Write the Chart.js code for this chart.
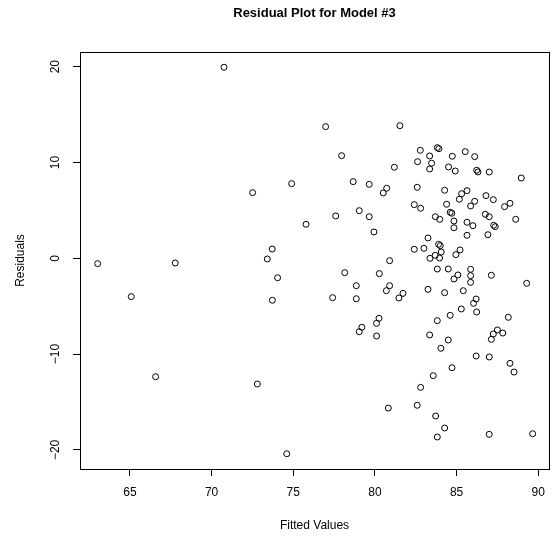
<!DOCTYPE html>
<html>
<head>
<meta charset="utf-8">
<title>Residual Plot for Model #3</title>
<script src="https://cdn.jsdelivr.net/npm/chart.js@4.4.0/dist/chart.umd.min.js"></script>
<style>
  body { margin: 0; background: #fff; }
  #chartResiduals { display: block; }
</style>
</head>
<body>
<canvas id="chartResiduals" width="555" height="540"></canvas>
<script>
// fitted values (x) and residuals (y)
const fittedValues = [
  63.02, 65.08, 66.57, 67.77, 70.76, 72.51, 72.8, 73.41, 73.71, 73.72,
  74.04, 74.6, 74.9, 75.78, 76.98, 77.41, 77.6, 77.96, 78.15, 78.67,
  78.86, 78.86, 79.04, 79.04, 79.2, 79.65, 79.65, 79.94, 80.1, 80.1,
  80.25, 80.27, 80.51, 80.72, 80.7, 80.82, 80.9, 80.9, 81.19, 81.47,
  81.53, 81.72, 82.41, 82.41, 82.59, 82.59, 82.61, 82.78, 82.8, 82.8,
  83.0, 83.25, 83.25, 83.35, 83.35, 83.35, 83.37, 83.47, 83.57, 83.69,
  83.7, 83.72, 83.82, 83.92, 83.82, 83.82, 83.82, 83.9, 83.96, 83.97,
  84.0, 84.04, 84.06, 84.27, 84.27, 84.27, 84.39, 84.49, 84.49, 84.51,
  84.61, 84.71, 84.61, 84.72, 84.74, 84.84, 84.84, 84.84, 84.92, 84.96,
  85.08, 85.17, 85.21, 85.29, 85.31, 85.41, 85.53, 85.64, 85.64, 85.64,
  85.86, 85.86, 85.86, 85.86, 86.0, 86.04, 86.11, 86.11, 86.2, 86.23,
  86.31, 86.23, 86.2, 86.76, 86.8, 86.92, 87.0, 87.0, 87.0, 87.0,
  87.13, 87.13, 87.25, 87.25, 87.27, 87.37, 87.5, 87.83, 87.94, 88.17,
  88.27, 88.27, 88.52, 88.62, 88.96, 89.29, 89.66
];
const residuals = [
  -0.56, -4.0, -12.36, -0.49, 19.94, 6.85, -13.12, -0.07, 0.97, -4.38,
  -2.03, -20.4, 7.79, 3.55, 13.74, -4.11, 4.42, 10.71, -1.5, 8.0,
  -2.86, -4.22, 4.97, -7.66, -7.2, 7.72, 4.34, 2.75, -6.79, -8.11,
  -6.26, -1.6, 6.82, 7.31, -3.38, -15.63, -0.25, -2.86, 9.5, -4.14,
  13.84, -3.66, 5.6, 0.94, 7.41, -15.34, 10.08, 11.27, 5.22, -13.47,
  1.04, 2.12, -3.24, 10.68, 9.32, -8.0, 0.0, 9.92, -12.25, 0.31,
  4.34, -16.46, 11.55, 11.44, -1.12, -6.51, -18.65, 1.46, 0.03, 4.07,
  1.32, -9.39, 0.66, 7.1, -3.59, -17.71, 5.64, -1.12, -8.53, 9.53,
  4.8, 4.7, -5.95, -11.42, 10.65, 3.89, 3.19, -2.16, 9.11, 0.38,
  -1.74, 6.16, 0.87, -5.29, 6.74, -3.38, 11.13, 7.06, 3.76, 2.4,
  5.46, -1.15, -1.81, -2.51, 3.4, -4.7, 10.61, 5.95, -4.25, 9.19,
  9.01, -5.6, -10.2, 4.59, 6.54, 2.46, 9.0, 4.34, -10.3, -18.37,
  -1.77, -8.46, 6.12, -7.9, 3.44, 3.3, -7.48, -7.8, 5.39, -6.16,
  5.74, -10.96, -11.87, 4.07, 8.38, -2.61, -18.31
];
const xTicks = [65, 70, 75, 80, 85, 90];
const yTicks = [-20, -10, 0, 10, 20];

const fontFamily = "'Liberation Sans', Arial, Helvetica, sans-serif";

function minusSign(value) {
  return value < 0 ? "\u2212" + Math.abs(value) : String(value);
}

// R style box around the plot region, on the same pixels as the axis borders
const boxPlugin = {
  id: "box",
  afterDraw(chart) {
    const a = chart.chartArea;
    const ctx = chart.ctx;
    ctx.save();
    ctx.strokeStyle = "#000";
    ctx.lineWidth = 1;
    ctx.strokeRect(Math.round(a.left) + 0.5, Math.round(a.top) + 0.5,
      Math.round(a.right - a.left), Math.round(a.bottom - a.top));
    ctx.restore();
  }
};

const points = fittedValues.map((x, i) => ({ x: x, y: residuals[i] }));

const ctx = document.getElementById("chartResiduals").getContext("2d");
new Chart(ctx, {
  type: "scatter",
  data: {
    datasets: [
      {
        data: points,
        pointStyle: "circle",
        pointRadius: 3,
        pointHoverRadius: 3,
        backgroundColor: "rgba(0,0,0,0)",
        borderColor: "#000",
        borderWidth: 1,
      },
    ],
  },
  options: {
    responsive: false,
    animation: false,
    devicePixelRatio: 1,
    layout: { padding: { left: 0, right: 6, top: 0, bottom: 0 } },
    plugins: {
      legend: { display: false },
      tooltip: { enabled: false },
      title: {
        display: true,
        fullSize: false,
        text: "Residual Plot for Model #3",
        color: "#000",
        font: { family: fontFamily, size: 13, weight: "bold" },
        padding: { top: 6, bottom: 30.4 },
      },
    },
    scales: {
      x: {
        type: "linear",
        min: 61.94,
        max: 90.66,
        afterBuildTicks: (scale) => {
          scale.ticks = xTicks.map((v) => ({ value: v }));
        },
        afterFit: (scale) => {
          scale.height = 71;
        },
        grid: { display: true, drawOnChartArea: false, drawTicks: true, tickLength: 7, color: "#000" },
        border: { display: true, color: "#000" },
        ticks: {
          color: "#000",
          font: { family: fontFamily, size: 12 },
          padding: 9,
          maxRotation: 0,
          autoSkip: false,
          callback: minusSign,
        },
        title: {
          display: true,
          text: "Fitted Values",
          color: "#000",
          font: { family: fontFamily, size: 12 },
          padding: { top: 0, bottom: 7 },
        },
      },
      y: {
        type: "linear",
        min: -21.99,
        max: 21.53,
        afterBuildTicks: (scale) => {
          scale.ticks = yTicks.map((v) => ({ value: v }));
        },
        afterFit: (scale) => {
          scale.width = 80;
        },
        grid: { display: true, drawOnChartArea: false, drawTicks: true, tickLength: 7, color: "#000" },
        border: { display: true, color: "#000" },
        ticks: {
          color: "#000",
          font: { family: fontFamily, size: 12 },
          padding: 7,
          minRotation: 90,
          maxRotation: 90,
          crossAlign: "center",
          autoSkip: false,
          callback: minusSign,
        },
        title: {
          display: true,
          text: "Residuals",
          color: "#000",
          font: { family: fontFamily, size: 12 },
          padding: { top: 13, bottom: 0 },
        },
      },
    },
  },
  plugins: [boxPlugin],
});
</script>
</body>
</html>
